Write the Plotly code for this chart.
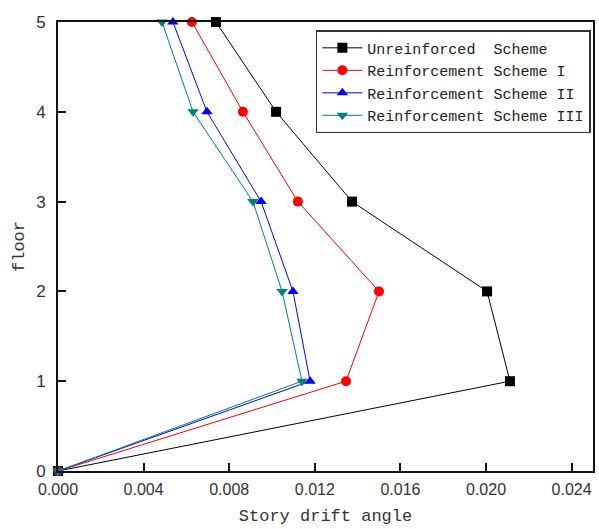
import plotly.graph_objects as go

floors = [0, 1, 2, 3, 4, 5]
unreinforced = [0.0, 0.02112, 0.02005, 0.01374, 0.01019, 0.00738]
scheme_1 = [0.0, 0.01346, 0.01500, 0.01121, 0.00864, 0.00626]
scheme_2 = [0.0, 0.01178, 0.01098, 0.00949, 0.00696, 0.00537]
scheme_3 = [0.0, 0.01140, 0.01047, 0.00911, 0.00631, 0.00486]

names = ["Unreinforced\u00a0\u00a0Scheme", "Reinforcement\u00a0Scheme\u00a0I",
         "Reinforcement\u00a0Scheme\u00a0II", "Reinforcement\u00a0Scheme\u00a0III"]
series = [unreinforced, scheme_1, scheme_2, scheme_3]
colors = ["#000000", "#ff0000", "#0000ff", "#008080"]
symbols = ["square", "circle", "triangle-up", "triangle-down"]

x_ticks = [0.000, 0.004, 0.008, 0.012, 0.016, 0.020, 0.024]
x_tick_labels = ["0.000", "0.004", "0.008", "0.012", "0.016", "0.020", "0.024"]
y_ticks = [0, 1, 2, 3, 4, 5]

fig = go.Figure()
for name, vals, c, s in zip(names, series, colors, symbols):
    fig.add_trace(go.Scatter(
        x=vals, y=floors, mode="lines+markers", name=name,
        line=dict(color=c, width=1),
        marker=dict(symbol=s, size=10, color=c),
        cliponaxis=False,
    ))

mono = "Liberation Mono, DejaVu Sans Mono, monospace"
fig.update_layout(
    width=599, height=529,
    margin=dict(l=58, r=6, t=22, b=58),
    paper_bgcolor="white", plot_bgcolor="white",
    showlegend=True,
    legend=dict(
        x=0.996, y=0.982, xanchor="right", yanchor="top",
        bgcolor="white", bordercolor="#333333", borderwidth=1.5,
        font=dict(family=mono, size=15, color="#222222"),
        tracegroupgap=0, itemwidth=40,
    ),
    xaxis=dict(
        range=[0, 0.025], tickvals=x_ticks, ticktext=x_tick_labels,
        ticks="inside", ticklen=8, tickwidth=2, tickcolor="#111111",
        showline=True, linewidth=2, linecolor="#111111", mirror=True,
        showgrid=False, zeroline=False, automargin=False,
        ticklabelstandoff=3,
        tickfont=dict(family="Liberation Sans, Arial, sans-serif", size=16, color="#333333"),
        title=dict(text="Story drift angle", font=dict(family=mono, size=17, color="#333333"), standoff=12),
    ),
    yaxis=dict(
        range=[0, 5], tickvals=y_ticks,
        ticks="inside", ticklen=8, tickwidth=2, tickcolor="#111111",
        showline=True, linewidth=2, linecolor="#111111", mirror=True,
        showgrid=False, zeroline=False, automargin=False,
        ticklabelstandoff=7,
        tickfont=dict(family="Liberation Sans, Arial, sans-serif", size=17, color="#333333"),
        title=dict(text="floor", font=dict(family=mono, size=17, color="#333333"), standoff=7),
    ),
)

fig.write_html("out.html", config={"displayModeBar": False},
               post_script="document.body.style.margin='0';")
